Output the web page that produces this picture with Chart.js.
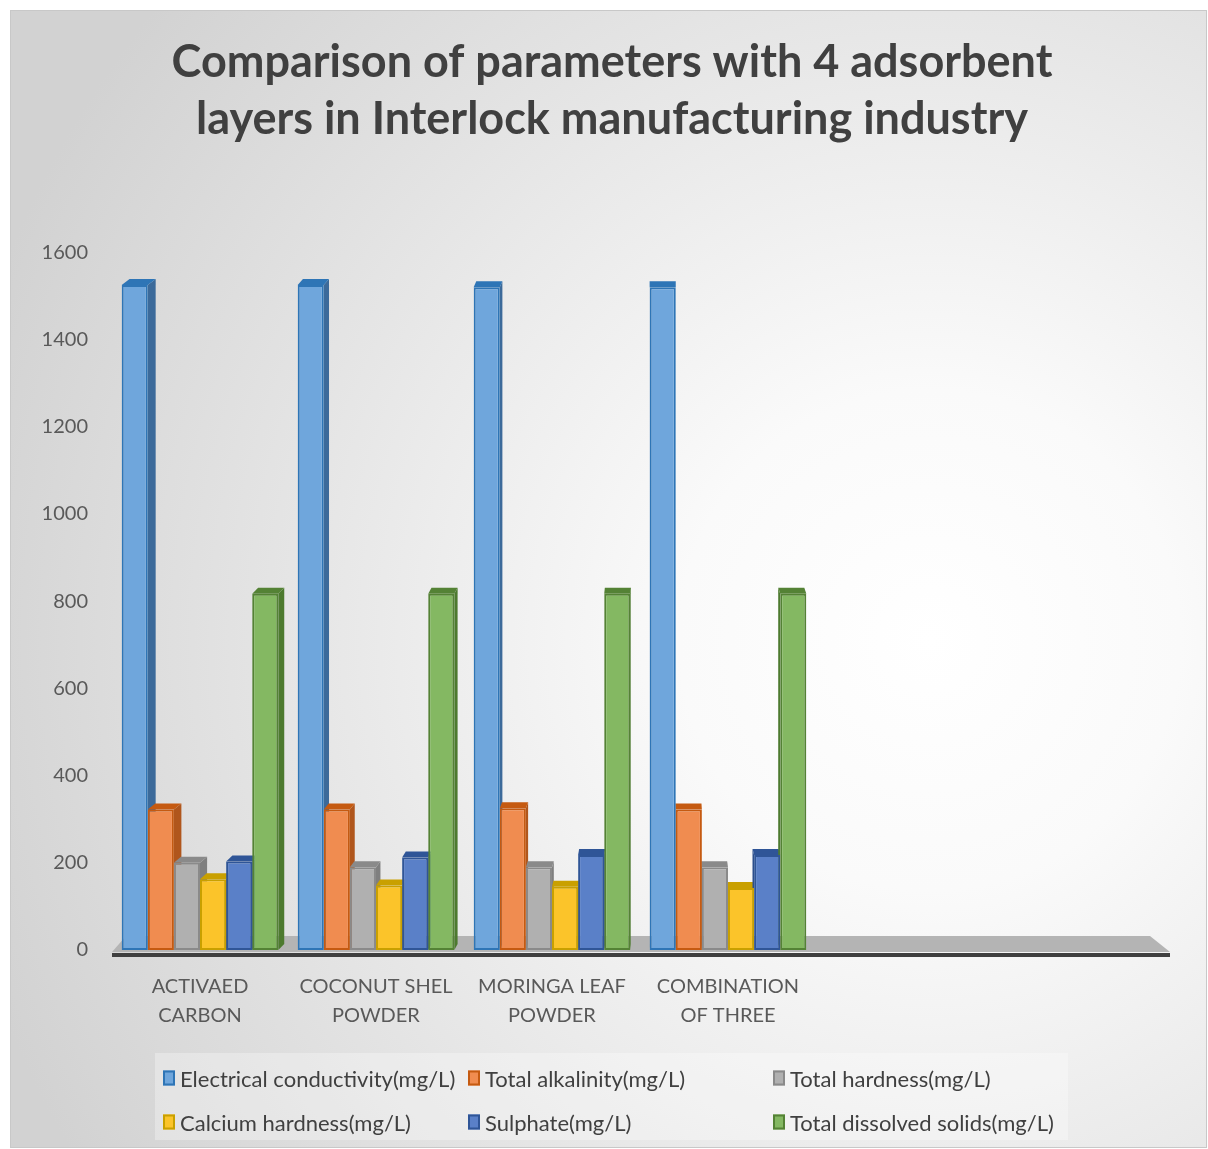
<!DOCTYPE html>
<html><head><meta charset="utf-8">
<script src="https://cdn.jsdelivr.net/npm/chart.js@4.4.1/dist/chart.umd.min.js"></script>
<style>
html,body{margin:0;padding:0;background:#fff;}
#wrap{position:relative;width:1208px;height:1149px;}
canvas{position:absolute;left:0;top:0;}
#legend{position:absolute;left:155px;top:1053px;width:913px;height:87px;background:rgba(255,255,255,0.3);font-family:Lato,sans-serif;font-size:22px;color:#404040;}
.item{position:absolute;display:flex;align-items:center;white-space:nowrap;transform:translateY(-50%);}
.sw{width:12px;height:15px;border:2px solid;margin-right:5px;box-sizing:border-box}
</style></head>
<body>
<div id="wrap"><canvas id="c" width="1208" height="1149"></canvas><div id="legend"></div></div>
<script>
const titleLines = ["Comparison of parameters with 4 adsorbent", "layers in Interlock manufacturing industry"];
const categories = [["ACTIVAED", "CARBON"], ["COCONUT SHEL", "POWDER"], ["MORINGA LEAF", "POWDER"], ["COMBINATION", "OF THREE"], "", ""];
const seriesNames = ["Electrical conductivity(mg/L)", "Total alkalinity(mg/L)", "Total hardness(mg/L)", "Calcium hardness(mg/L)", "Sulphate(mg/L)", "Total dissolved solids(mg/L)"];
const electricalConductivity = [1525, 1525, 1520, 1520];
const totalAlkalinity = [322, 322, 325, 322];
const totalHardness = [200, 190, 190, 190];
const calciumHardness = [162, 148, 145, 142];
const sulphate = [203, 212, 218, 218];
const totalDissolvedSolids = [817, 817, 817, 817];
const yTicks = {min: 0, max: 1600, step: 200};

const fills = ["#6fa6dc", "#f08c50", "#b0b0b0", "#fbc42a", "#5a80c8", "#84b862"];
const borders = ["#2e75b6", "#c55a11", "#8a8a8a", "#c9a000", "#2f5597", "#548235"];
const sides = ["#3c6a9a", "#b0561c", "#7f7f7f", "#b58c00", "#2c4f8c", "#4d7a2f"];
const seriesValues = [electricalConductivity, totalAlkalinity, totalHardness, calciumHardness, sulphate, totalDissolvedSolids];

const bgPlugin = {
  id: 'bg',
  afterLayout(chart) {
    if (chart.titleBlock) chart.titleBlock.left = 56;
  },
  beforeDraw(chart) {
    const ctx = chart.ctx;
    ctx.save();
    ctx.fillStyle = '#fff';
    ctx.fillRect(0, 0, chart.width, chart.height);
    const g = ctx.createRadialGradient(930, 640, 0, 930, 640, 1000);
    g.addColorStop(0, '#ffffff');
    g.addColorStop(0.25, '#fafafa');
    g.addColorStop(1, '#d2d2d2');
    ctx.fillStyle = g;
    ctx.fillRect(10, 10, chart.width - 11, chart.height - 11);
    ctx.strokeStyle = '#c8c8c8';
    ctx.lineWidth = 1;
    ctx.strokeRect(10.5, 10.5, chart.width - 12, chart.height - 12);
    ctx.restore();
  }
};

const floorPlugin = {
  id: 'floor',
  beforeDatasetsDraw(chart) {
    const ctx = chart.ctx, a = chart.chartArea;
    ctx.save();
    ctx.fillStyle = '#b4b4b4';
    ctx.beginPath();
    ctx.moveTo(a.left + 14, a.bottom - 14);
    ctx.lineTo(a.right - 18, a.bottom - 14);
    ctx.lineTo(a.right + 2, a.bottom + 2);
    ctx.lineTo(a.left, a.bottom + 2);
    ctx.closePath();
    ctx.fill();
    ctx.strokeStyle = '#3f3f3f';
    ctx.lineWidth = 4;
    ctx.beginPath();
    ctx.moveTo(a.left, a.bottom + 5);
    ctx.lineTo(a.right + 2, a.bottom + 5);
    ctx.stroke();
    chart.data.datasets.forEach((ds, i) => {
      const meta = chart.getDatasetMeta(i);
      meta.data.forEach(el => {
        const w = el.width, l = el.x - w / 2, r = el.x + w / 2;
        const dx = (660 - el.x) * 0.015, dy = -6;
        ctx.fillStyle = sides[i];
        ctx.beginPath();
        if (dx >= 0) {
          ctx.moveTo(r, el.y); ctx.lineTo(r + dx, el.y + dy); ctx.lineTo(r + dx, el.base + dy); ctx.lineTo(r, el.base);
        } else {
          ctx.moveTo(l, el.y); ctx.lineTo(l + dx, el.y + dy); ctx.lineTo(l + dx, el.base + dy); ctx.lineTo(l, el.base);
        }
        ctx.closePath(); ctx.fill();
        ctx.fillStyle = borders[i];
        ctx.beginPath();
        ctx.moveTo(l, el.y); ctx.lineTo(l + dx, el.y + dy); ctx.lineTo(r + dx, el.y + dy); ctx.lineTo(r, el.y);
        ctx.closePath(); ctx.fill();
      });
    });
    ctx.restore();
  }
};

const datasets = seriesNames.map((n, i) => ({
  label: n,
  data: seriesValues[i],
  backgroundColor: fills[i],
  borderColor: borders[i],
  borderWidth: 2,
  borderSkipped: false,
  barPercentage: 1,
  categoryPercentage: 0.89
}));

const chart = new Chart(document.getElementById('c'), {
  type: 'bar',
  data: {labels: categories, datasets},
  plugins: [bgPlugin, floorPlugin],
  options: {
    responsive: false,
    animation: false,
    layout: {padding: {top: 10, left: 19, right: 40, bottom: 105}},
    plugins: {
      legend: {display: false},
      tooltip: {enabled: false},
      title: {
        display: true, text: titleLines, color: '#404040',
        font: {family: 'Lato', size: 45, weight: 'bold', lineHeight: 1.27},
        padding: {top: 24, bottom: 104}
      }
    },
    scales: {
      x: {
        grid: {display: false}, border: {display: false},
        ticks: {color: '#595959', font: {family: 'Lato', size: 20, lineHeight: 1.45}, padding: 14, maxRotation: 0, autoSkip: false}
      },
      y: {
        min: yTicks.min, max: yTicks.max,
        grid: {display: false, drawTicks: false}, border: {display: false},
        afterFit: s => { s.width = 93; },
        ticks: {stepSize: yTicks.step, color: '#595959', font: {family: 'Lato', size: 20}, padding: 24,
          callback: v => String(v)}
      }
    }
  }
});

const leg = document.getElementById('legend');
const pos = [[8, 25], [313, 25], [618, 25], [8, 69], [313, 69], [618, 69]];
seriesNames.forEach((n, i) => {
  const d = document.createElement('div');
  d.className = 'item';
  d.style.left = pos[i][0] + 'px';
  d.style.top = pos[i][1] + 'px';
  d.innerHTML = '<span class="sw" style="background:' + fills[i] + ';border-color:' + borders[i] + '"></span><span>' + n + '</span>';
  leg.appendChild(d);
});
</script>
</body></html>
